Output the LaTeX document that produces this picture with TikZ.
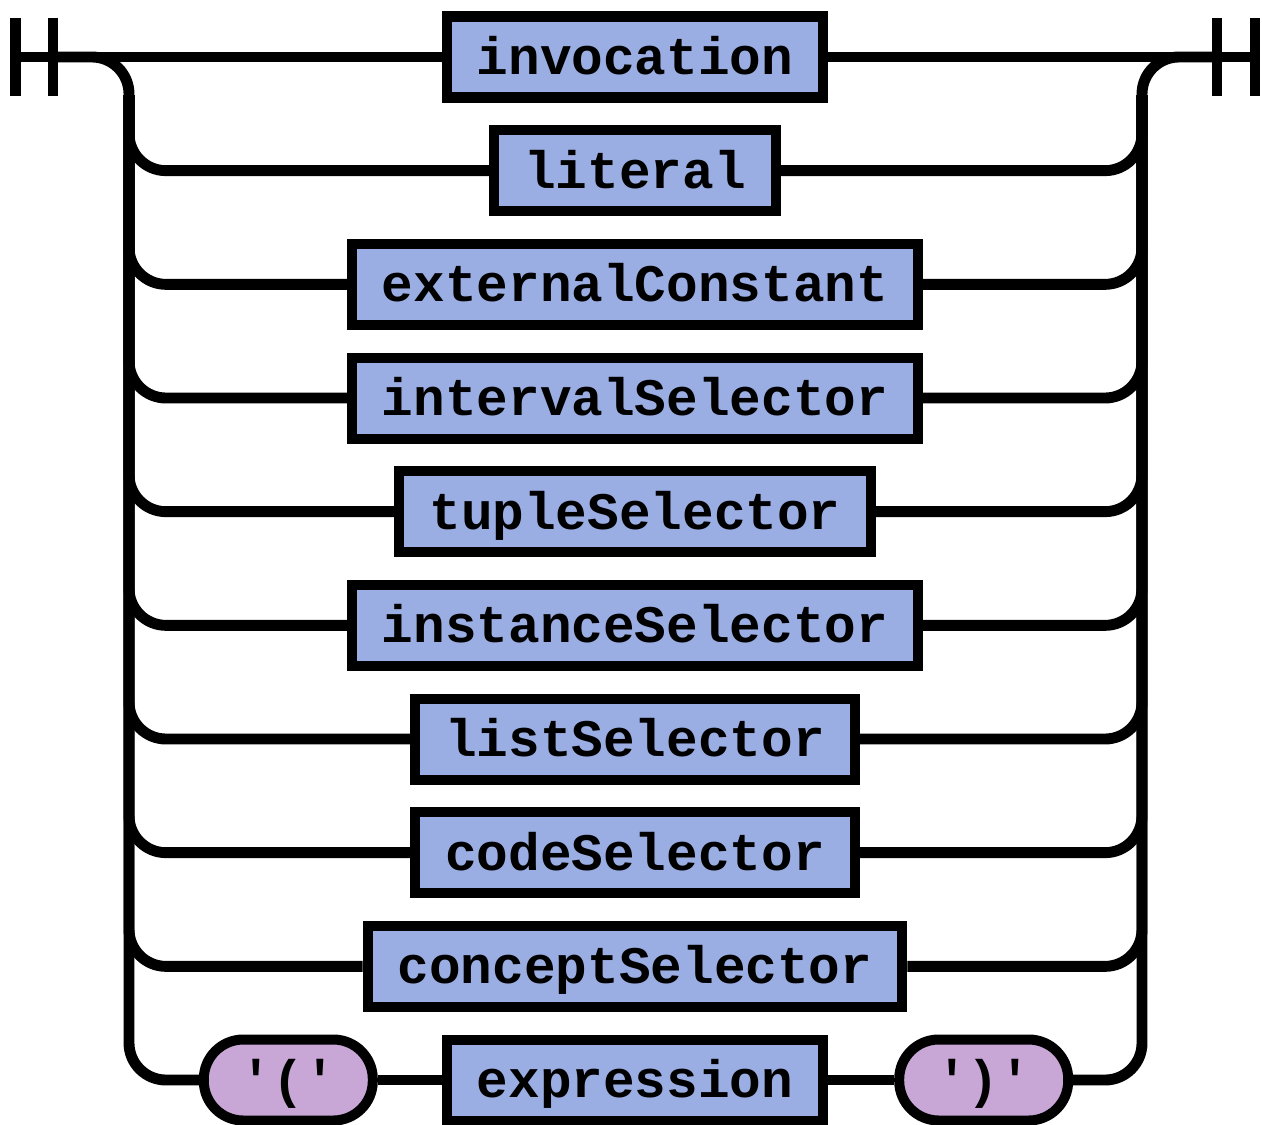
\documentclass[tikz,border=0pt]{standalone}
\usepackage{fontspec}
\newfontfamily\railfont{Liberation Mono}
\usetikzlibrary{calc,positioning}
\definecolor{rulefill}{HTML}{9BAEE3}
\definecolor{tokfill}{HTML}{C8A6D6}

\begin{document}
\begin{tikzpicture}[
    rail/.style={line width=6.2pt,rounded corners=0.74cm},
    endbar/.style={line width=6.2pt},
    rulebox/.style={draw,line width=5.7pt,fill=rulefill,minimum height=1.62cm,
      inner xsep=0.6cm,inner ysep=0.2cm,text height=0.8cm,text depth=0.1cm,
      font=\railfont\bfseries\fontsize{30}{30}\selectfont},
    tokbox/.style={rulebox,fill=tokfill,rounded corners=0.79cm,minimum width=3.38cm,inner xsep=0.2cm}]
  \useasboundingbox (0,0) rectangle (25.24,-22.48);
  % start and end bars
  \coordinate (s1) at (0.31,-1.14);
  \coordinate (s2) at (1.06,-1.14);
  \coordinate (e1) at (24.34,-1.14);
  \coordinate (e2) at (25.10,-1.14);
  \coordinate (lr) at (2.58,-1.9);
  \coordinate (rr) at (22.84,-1.9);
  \draw[endbar] (s1) ++(0,0.78) -- ++(0,-1.56);
  \draw[endbar] (s2) ++(0,0.78) -- ++(0,-1.56);
  \draw[endbar] (e1) ++(0,0.78) -- ++(0,-1.56);
  \draw[endbar] (e2) ++(0,0.78) -- ++(0,-1.56);
  % alternatives
  \node[rulebox] (inv)   at (12.7,-1.14)   {invocation};
  \node[rulebox] (lit)   at (12.7,-3.413)  {literal};
  \node[rulebox] (extc)  at (12.7,-5.687)  {externalConstant};
  \node[rulebox] (ivs)   at (12.7,-7.96)   {intervalSelector};
  \node[rulebox] (tups)  at (12.7,-10.233) {tupleSelector};
  \node[rulebox] (insts) at (12.7,-12.507) {instanceSelector};
  \node[rulebox] (lsts)  at (12.7,-14.78)  {listSelector};
  \node[rulebox] (codes) at (12.7,-17.053) {codeSelector};
  \node[rulebox] (concs) at (12.7,-19.327) {conceptSelector};
  \node[rulebox] (expr)  at (12.7,-21.6)   {expression};
  \node[tokbox,left=1.28cm of expr]  (lpar) {'('};
  \node[tokbox,right=1.32cm of expr] (rpar) {')'};
  % rails
  \draw[rail] (s1) -- (inv.west);
  \draw[rail] (inv.east) -- (e2);
  \draw[rail] (lr) |- (s2);
  \draw[rail] (rr) |- (e1);
  \foreach \n in {lit,extc,ivs,tups,insts,lsts,codes,concs} {
    \draw[rail] (lr) |- (\n.west);
    \draw[rail] (\n.east) -| (rr);
  }
  \draw[rail] (lr) |- (lpar.west);
  \draw[rail] (lpar) -- (expr);
  \draw[rail] (expr) -- (rpar);
  \draw[rail] (rpar.east) -| (rr);
\end{tikzpicture}
\end{document}
